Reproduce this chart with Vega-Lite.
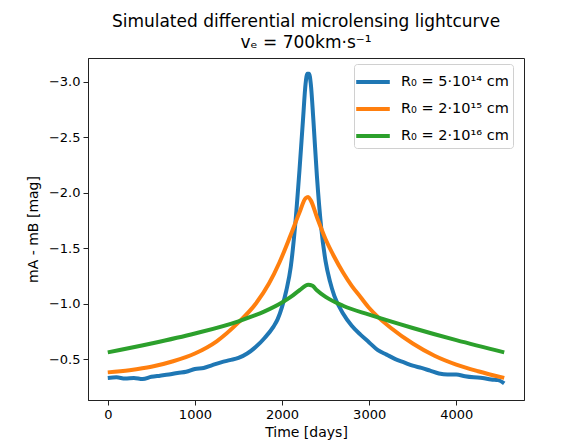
{
  "$schema": "https://vega.github.io/schema/vega-lite/v6.json",
  "width": 436,
  "height": 342,
  "autosize": {"type": "none"},
  "padding": {"left": 88, "top": 58, "right": 52, "bottom": 46},
  "background": "white",
  "title": {
    "text": "Simulated differential microlensing lightcurve",
    "subtitle": "vₑ = 700km·s⁻¹",
    "anchor": "middle",
    "font": "DejaVu Sans",
    "fontSize": 17,
    "fontWeight": "normal",
    "color": "black",
    "subtitleFont": "DejaVu Sans",
    "subtitleFontSize": 17,
    "subtitleColor": "black",
    "subtitlePadding": 4,
    "offset": 6
  },
  "config": {
    "view": {"stroke": "#222", "strokeWidth": 1},
    "font": "DejaVu Sans",
    "axis": {
      "grid": false,
      "domainColor": "#222",
      "tickColor": "#222",
      "tickSize": 5,
      "labelFont": "DejaVu Sans",
      "labelFontSize": 13,
      "labelColor": "black",
      "titleFont": "DejaVu Sans",
      "titleFontSize": 14,
      "titleFontWeight": "normal",
      "titleColor": "black"
    }
  },
  "data": {
    "values": [
      {"t": 0, "mag": -0.33, "s": "R₀ = 5·10¹⁴ cm"},
      {"t": 100, "mag": -0.335, "s": "R₀ = 5·10¹⁴ cm"},
      {"t": 200, "mag": -0.325, "s": "R₀ = 5·10¹⁴ cm"},
      {"t": 300, "mag": -0.33, "s": "R₀ = 5·10¹⁴ cm"},
      {"t": 400, "mag": -0.32, "s": "R₀ = 5·10¹⁴ cm"},
      {"t": 500, "mag": -0.34, "s": "R₀ = 5·10¹⁴ cm"},
      {"t": 600, "mag": -0.35, "s": "R₀ = 5·10¹⁴ cm"},
      {"t": 700, "mag": -0.36, "s": "R₀ = 5·10¹⁴ cm"},
      {"t": 800, "mag": -0.375, "s": "R₀ = 5·10¹⁴ cm"},
      {"t": 900, "mag": -0.385, "s": "R₀ = 5·10¹⁴ cm"},
      {"t": 1000, "mag": -0.41, "s": "R₀ = 5·10¹⁴ cm"},
      {"t": 1100, "mag": -0.42, "s": "R₀ = 5·10¹⁴ cm"},
      {"t": 1200, "mag": -0.445, "s": "R₀ = 5·10¹⁴ cm"},
      {"t": 1300, "mag": -0.47, "s": "R₀ = 5·10¹⁴ cm"},
      {"t": 1400, "mag": -0.49, "s": "R₀ = 5·10¹⁴ cm"},
      {"t": 1500, "mag": -0.51, "s": "R₀ = 5·10¹⁴ cm"},
      {"t": 1600, "mag": -0.55, "s": "R₀ = 5·10¹⁴ cm"},
      {"t": 1700, "mag": -0.61, "s": "R₀ = 5·10¹⁴ cm"},
      {"t": 1800, "mag": -0.69, "s": "R₀ = 5·10¹⁴ cm"},
      {"t": 1900, "mag": -0.79, "s": "R₀ = 5·10¹⁴ cm"},
      {"t": 1950, "mag": -0.86, "s": "R₀ = 5·10¹⁴ cm"},
      {"t": 2000, "mag": -0.97, "s": "R₀ = 5·10¹⁴ cm"},
      {"t": 2050, "mag": -1.12, "s": "R₀ = 5·10¹⁴ cm"},
      {"t": 2100, "mag": -1.33, "s": "R₀ = 5·10¹⁴ cm"},
      {"t": 2150, "mag": -1.7, "s": "R₀ = 5·10¹⁴ cm"},
      {"t": 2200, "mag": -2.2, "s": "R₀ = 5·10¹⁴ cm"},
      {"t": 2240, "mag": -2.65, "s": "R₀ = 5·10¹⁴ cm"},
      {"t": 2270, "mag": -2.98, "s": "R₀ = 5·10¹⁴ cm"},
      {"t": 2290, "mag": -3.07, "s": "R₀ = 5·10¹⁴ cm"},
      {"t": 2310, "mag": -3.07, "s": "R₀ = 5·10¹⁴ cm"},
      {"t": 2330, "mag": -2.98, "s": "R₀ = 5·10¹⁴ cm"},
      {"t": 2360, "mag": -2.65, "s": "R₀ = 5·10¹⁴ cm"},
      {"t": 2400, "mag": -2.15, "s": "R₀ = 5·10¹⁴ cm"},
      {"t": 2450, "mag": -1.68, "s": "R₀ = 5·10¹⁴ cm"},
      {"t": 2500, "mag": -1.38, "s": "R₀ = 5·10¹⁴ cm"},
      {"t": 2550, "mag": -1.2, "s": "R₀ = 5·10¹⁴ cm"},
      {"t": 2600, "mag": -1.07, "s": "R₀ = 5·10¹⁴ cm"},
      {"t": 2700, "mag": -0.91, "s": "R₀ = 5·10¹⁴ cm"},
      {"t": 2800, "mag": -0.8, "s": "R₀ = 5·10¹⁴ cm"},
      {"t": 2900, "mag": -0.72, "s": "R₀ = 5·10¹⁴ cm"},
      {"t": 3000, "mag": -0.65, "s": "R₀ = 5·10¹⁴ cm"},
      {"t": 3100, "mag": -0.58, "s": "R₀ = 5·10¹⁴ cm"},
      {"t": 3200, "mag": -0.54, "s": "R₀ = 5·10¹⁴ cm"},
      {"t": 3300, "mag": -0.5, "s": "R₀ = 5·10¹⁴ cm"},
      {"t": 3400, "mag": -0.47, "s": "R₀ = 5·10¹⁴ cm"},
      {"t": 3500, "mag": -0.44, "s": "R₀ = 5·10¹⁴ cm"},
      {"t": 3600, "mag": -0.42, "s": "R₀ = 5·10¹⁴ cm"},
      {"t": 3700, "mag": -0.395, "s": "R₀ = 5·10¹⁴ cm"},
      {"t": 3800, "mag": -0.37, "s": "R₀ = 5·10¹⁴ cm"},
      {"t": 3900, "mag": -0.36, "s": "R₀ = 5·10¹⁴ cm"},
      {"t": 4000, "mag": -0.36, "s": "R₀ = 5·10¹⁴ cm"},
      {"t": 4100, "mag": -0.345, "s": "R₀ = 5·10¹⁴ cm"},
      {"t": 4200, "mag": -0.335, "s": "R₀ = 5·10¹⁴ cm"},
      {"t": 4300, "mag": -0.33, "s": "R₀ = 5·10¹⁴ cm"},
      {"t": 4400, "mag": -0.315, "s": "R₀ = 5·10¹⁴ cm"},
      {"t": 4480, "mag": -0.31, "s": "R₀ = 5·10¹⁴ cm"},
      {"t": 4550, "mag": -0.28, "s": "R₀ = 5·10¹⁴ cm"},
      {"t": 0, "mag": -0.38, "s": "R₀ = 2·10¹⁵ cm"},
      {"t": 250, "mag": -0.4, "s": "R₀ = 2·10¹⁵ cm"},
      {"t": 500, "mag": -0.43, "s": "R₀ = 2·10¹⁵ cm"},
      {"t": 750, "mag": -0.48, "s": "R₀ = 2·10¹⁵ cm"},
      {"t": 1000, "mag": -0.55, "s": "R₀ = 2·10¹⁵ cm"},
      {"t": 1250, "mag": -0.66, "s": "R₀ = 2·10¹⁵ cm"},
      {"t": 1500, "mag": -0.83, "s": "R₀ = 2·10¹⁵ cm"},
      {"t": 1700, "mag": -1.0, "s": "R₀ = 2·10¹⁵ cm"},
      {"t": 1850, "mag": -1.18, "s": "R₀ = 2·10¹⁵ cm"},
      {"t": 1970, "mag": -1.37, "s": "R₀ = 2·10¹⁵ cm"},
      {"t": 2100, "mag": -1.62, "s": "R₀ = 2·10¹⁵ cm"},
      {"t": 2200, "mag": -1.82, "s": "R₀ = 2·10¹⁵ cm"},
      {"t": 2270, "mag": -1.95, "s": "R₀ = 2·10¹⁵ cm"},
      {"t": 2300, "mag": -1.96, "s": "R₀ = 2·10¹⁵ cm"},
      {"t": 2330, "mag": -1.93, "s": "R₀ = 2·10¹⁵ cm"},
      {"t": 2400, "mag": -1.78, "s": "R₀ = 2·10¹⁵ cm"},
      {"t": 2500, "mag": -1.58, "s": "R₀ = 2·10¹⁵ cm"},
      {"t": 2600, "mag": -1.42, "s": "R₀ = 2·10¹⁵ cm"},
      {"t": 2700, "mag": -1.28, "s": "R₀ = 2·10¹⁵ cm"},
      {"t": 2800, "mag": -1.16, "s": "R₀ = 2·10¹⁵ cm"},
      {"t": 2900, "mag": -1.06, "s": "R₀ = 2·10¹⁵ cm"},
      {"t": 3000, "mag": -0.96, "s": "R₀ = 2·10¹⁵ cm"},
      {"t": 3100, "mag": -0.88, "s": "R₀ = 2·10¹⁵ cm"},
      {"t": 3250, "mag": -0.78, "s": "R₀ = 2·10¹⁵ cm"},
      {"t": 3500, "mag": -0.64, "s": "R₀ = 2·10¹⁵ cm"},
      {"t": 3750, "mag": -0.53, "s": "R₀ = 2·10¹⁵ cm"},
      {"t": 4000, "mag": -0.45, "s": "R₀ = 2·10¹⁵ cm"},
      {"t": 4250, "mag": -0.39, "s": "R₀ = 2·10¹⁵ cm"},
      {"t": 4550, "mag": -0.33, "s": "R₀ = 2·10¹⁵ cm"},
      {"t": 0, "mag": -0.56, "s": "R₀ = 2·10¹⁶ cm"},
      {"t": 500, "mag": -0.64, "s": "R₀ = 2·10¹⁶ cm"},
      {"t": 1000, "mag": -0.73, "s": "R₀ = 2·10¹⁶ cm"},
      {"t": 1500, "mag": -0.84, "s": "R₀ = 2·10¹⁶ cm"},
      {"t": 1800, "mag": -0.93, "s": "R₀ = 2·10¹⁶ cm"},
      {"t": 2000, "mag": -1.01, "s": "R₀ = 2·10¹⁶ cm"},
      {"t": 2100, "mag": -1.06, "s": "R₀ = 2·10¹⁶ cm"},
      {"t": 2200, "mag": -1.12, "s": "R₀ = 2·10¹⁶ cm"},
      {"t": 2300, "mag": -1.17, "s": "R₀ = 2·10¹⁶ cm"},
      {"t": 2350, "mag": -1.16, "s": "R₀ = 2·10¹⁶ cm"},
      {"t": 2400, "mag": -1.12, "s": "R₀ = 2·10¹⁶ cm"},
      {"t": 2500, "mag": -1.06, "s": "R₀ = 2·10¹⁶ cm"},
      {"t": 2700, "mag": -0.98, "s": "R₀ = 2·10¹⁶ cm"},
      {"t": 3000, "mag": -0.9, "s": "R₀ = 2·10¹⁶ cm"},
      {"t": 3500, "mag": -0.78, "s": "R₀ = 2·10¹⁶ cm"},
      {"t": 4000, "mag": -0.67, "s": "R₀ = 2·10¹⁶ cm"},
      {"t": 4550, "mag": -0.56, "s": "R₀ = 2·10¹⁶ cm"}
    ]
  },
  "mark": {"type": "line", "strokeWidth": 4, "strokeJoin": "round", "interpolate": "monotone"},
  "encoding": {
    "x": {
      "field": "t",
      "type": "quantitative",
      "scale": {"domain": [-227, 4777], "nice": false, "zero": false},
      "axis": {"values": [0, 1000, 2000, 3000, 4000], "title": "Time [days]", "format": "d", "labelPadding": 3, "titlePadding": 4}
    },
    "y": {
      "field": "mag",
      "type": "quantitative",
      "scale": {"domain": [-3.213, -0.131], "nice": false, "zero": false, "reverse": true},
      "axis": {"values": [-3, -2.5, -2, -1.5, -1, -0.5], "format": ".1f", "title": "mA - mB [mag]", "labelPadding": 3, "titlePadding": 8}
    },
    "color": {
      "field": "s",
      "type": "nominal",
      "sort": null,
      "scale": {
        "domain": ["R₀ = 5·10¹⁴ cm", "R₀ = 2·10¹⁵ cm", "R₀ = 2·10¹⁶ cm"],
        "range": ["#1f77b4", "#ff7f0e", "#2ca02c"]
      },
      "legend": {
        "title": null,
        "orient": "none",
        "legendX": 266,
        "legendY": 6,
        "symbolType": "M-1.4,0H1.4",
        "symbolSize": 576,
        "symbolStrokeWidth": 4,
        "symbolOffset": 1,
        "labelFont": "DejaVu Sans",
        "labelFontSize": 14.5,
        "labelColor": "black",
        "labelOffset": 14,
        "rowPadding": 5,
        "padding": 4,
        "strokeColor": "#d0d0d0",
        "fillColor": "white",
        "cornerRadius": 3
      }
    }
  }
}
